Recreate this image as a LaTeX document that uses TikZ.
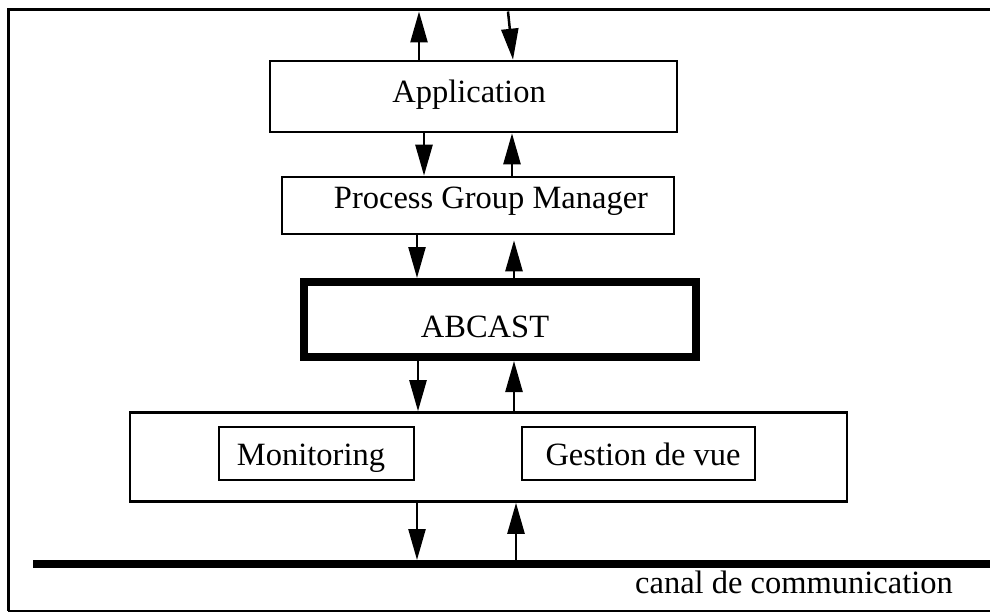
\documentclass[tikz,border=0pt]{standalone}
\usepackage{fontspec}
\setmainfont{Liberation Serif}
\usetikzlibrary{arrows.meta}
\tikzset{
  box/.style={draw, line width=2.6pt, rectangle, inner sep=0pt},
  thickbox/.style={draw, line width=8pt, rectangle, inner sep=0pt},
  lbl/.style={inner sep=0pt, anchor=base, font=\fontsize{32.5}{38}\selectfont},
  arr/.style={line width=2.5pt, -{Triangle[length=31pt,width=17pt]}},
}
\begin{document}
\begin{tikzpicture}[x=1pt,y=-1pt]
\useasboundingbox (0,0) rectangle (990,615);
% frame
\coordinate (ftop) at (0,11.5);
\draw[line width=3pt] (990,10) -- (8,10) -- (8,611);
\draw[line width=1.6pt] (8,611) -- (990,611);
% channel
\coordinate (chL) at (33,564);
\coordinate (chR) at (990,564);
\coordinate (chT) at (0,560);
\draw[line width=8pt] (chL) -- (chR);
% boxes
\node[box, minimum width=407pt, minimum height=71pt] (app) at (473.5,96.5) {};
\node[box, minimum width=392pt, minimum height=57pt] (pgm) at (478,205.5) {};
\node[thickbox, minimum width=392pt, minimum height=75pt] (abc) at (500,319.5) {};
\node[box, minimum width=717pt, minimum height=89pt] (big) at (488.5,457) {};
\node[box, minimum width=195pt, minimum height=53pt] (mon) at (316.5,453.5) {};
\node[box, minimum width=233pt, minimum height=53pt] (ges) at (638.5,453.5) {};
% labels
\node[lbl] (appT) at (469,103) {Application};
\node[lbl] (pgmT) at (491,208) {Process Group Manager};
\node[lbl] (abcT) at (485,337) {ABCAST};
\node[lbl] (monT) at (311,465) {Monitoring};
\node[lbl] (gesT) at (643,465) {Gestion de vue};
\node[lbl, anchor=base east] (chT2) at (953,593) {canal de communication};
% arrow columns
\coordinate (x1) at (419,0);
\coordinate (x2a) at (508,0);
\coordinate (x2b) at (513,0);
\coordinate (x3) at (424,0);
\coordinate (x4) at (512,0);
\coordinate (x5) at (417,0);
\coordinate (x6) at (514,0);
\coordinate (x7) at (418,0);
\coordinate (x8) at (514,0);
\coordinate (x9) at (417,0);
\coordinate (x10) at (516,0);
% arrows
\draw[arr] (app.north -| x1) -- (ftop -| x1);
\draw[arr] (ftop -| x2a) -- (app.north -| x2b);
\draw[arr] (app.south -| x3) -- (pgm.north -| x3);
\draw[arr] (pgm.north -| x4) -- (app.south -| x4);
\draw[arr] (pgm.south -| x5) -- (abc.north -| x5);
\draw[arr] (abc.north -| x6) -- ([yshift=-5pt]pgm.south -| x6);
\draw[arr] (abc.south -| x7) -- (big.north -| x7);
\draw[arr] (big.north -| x8) -- (abc.south -| x8);
\draw[arr] (big.south -| x9) -- (chT -| x9);
\draw[arr] (chT -| x10) -- (big.south -| x10);
\end{tikzpicture}
\end{document}
